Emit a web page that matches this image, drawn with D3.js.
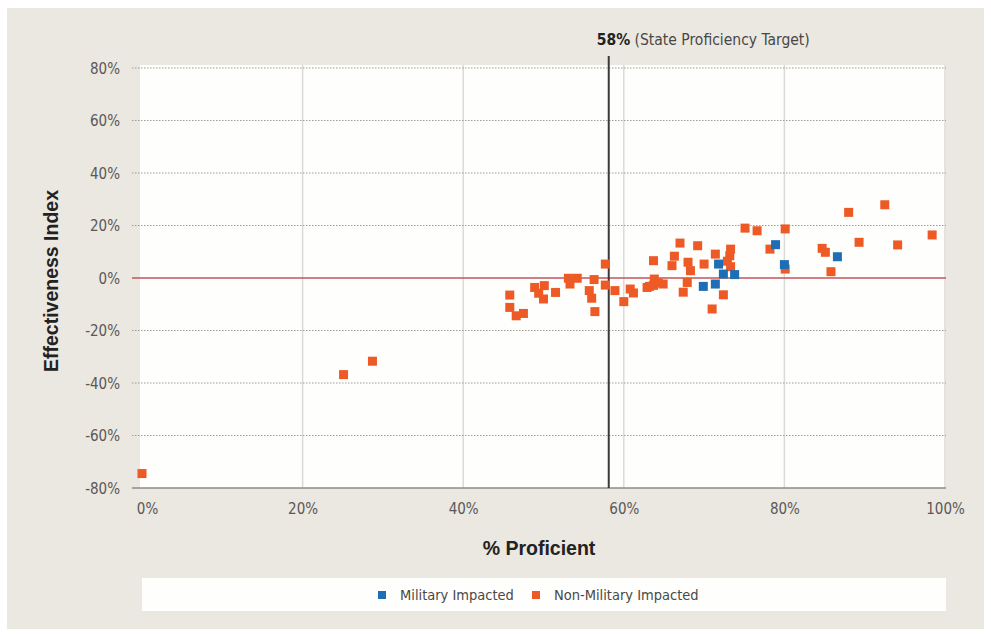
<!DOCTYPE html>
<html><head><meta charset="utf-8">
<script src="https://cdn.jsdelivr.net/npm/d3@7"></script>
<style>
body{margin:0;background:#fff;}
text{font-family:"Liberation Sans Narrow","DejaVu Sans Condensed","Roboto Condensed",sans-serif;}
</style></head>
<body><svg id="c" width="991" height="636"></svg>
<script>
const xTicks = [0,20,40,60,80,100];
const yTicks = [-80,-60,-40,-20,0,20,40,60,80];
const targetValue = 58;
const seriesNames = ["Military Impacted","Non-Military Impacted"];
const seriesColors = ["#1f6db5","#ee5a25"];
const militaryX = [69.9,71.4,71.8,72.4,73.8,78.9,80.0,86.6];
const militaryY = [-3.2,-2.3,5.3,1.5,1.3,12.7,5.1,8.1];
const nonMilX = [0,25.1,28.7,45.8,45.8,46.6,47.5,48.9,50.1,49.4,50.0,51.5,53.1,54.2,53.3,56.3,55.7,56.0,56.4,57.7,57.7,58.9,60.0,60.8,61.2,63.7,62.9,63.2,63.8,64.3,64.9,63.7,66.0,66.3,67.0,68.0,68.3,67.9,67.4,69.2,70.0,71.4,71.0,72.4,73.3,73.2,72.9,73.3,75.1,76.6,80.1,78.2,80.1,88.0,92.5,84.7,85.1,85.8,89.3,94.1,98.4];
const nonMilY = [-74.5,-36.8,-31.7,-6.5,-11.2,-14.4,-13.5,-3.6,-2.9,-5.8,-8.0,-5.5,-0.1,-0.1,-2.3,-0.6,-4.8,-7.7,-12.8,5.3,-2.7,-4.8,-9.0,-4.2,-5.7,6.6,-3.6,-3.2,-0.4,-1.9,-2.3,-2.8,4.7,8.3,13.3,6.0,2.8,-1.7,-5.4,12.3,5.3,9.1,-11.8,-6.4,11.0,8.5,6.4,4.3,19.0,18.0,18.7,11.0,3.4,25.0,27.9,11.3,9.8,2.4,13.6,12.6,16.4];

const svg = d3.select("#c");
const W=991,H=636;
svg.append("rect").attr("width",W).attr("height",H).attr("fill","#fff");
svg.append("rect").attr("x",7).attr("y",8).attr("width",977).attr("height",621).attr("fill","#ebe7e1");

const x = d3.scaleLinear().domain([0,100]).range([142,945]);
const y = d3.scaleLinear().domain([-80,80]).range([488,68]);

svg.append("rect").attr("x",140).attr("y",65).attr("width",946-140).attr("height",488-65).attr("fill","#fefefc");

svg.append("g").selectAll("line").data(xTicks.slice(1)).join("line")
  .attr("x1",d=>x(d)).attr("x2",d=>x(d)).attr("y1",65).attr("y2",488)
  .attr("stroke","#dcdad6").attr("stroke-width",1.5);

svg.append("g").selectAll("line").data(yTicks.filter(d=>d!==0 && d!==-80)).join("line")
  .attr("x1",132).attr("x2",946).attr("y1",d=>y(d)).attr("y2",d=>y(d))
  .attr("stroke","#9e9c98").attr("stroke-width",1).attr("stroke-dasharray","1.5,1.5");

svg.append("line").attr("x1",132).attr("x2",946).attr("y1",y(0)).attr("y2",y(0))
  .attr("stroke","#c2535d").attr("stroke-width",1.3);
svg.append("line").attr("x1",132).attr("x2",946).attr("y1",y(-80)).attr("y2",y(-80))
  .attr("stroke","#8f8d89").attr("stroke-width",1.5);

const tickFont = '"Liberation Sans Narrow","DejaVu Sans Condensed",sans-serif';
const yAxis = d3.axisLeft(y).tickValues(yTicks).tickSize(0).tickPadding(0).tickFormat(d=>d+"%");
const gy = svg.append("g").attr("transform","translate(120,0)").call(yAxis);
gy.select(".domain").remove();
gy.selectAll("text").attr("font-size",15).attr("fill","#5a5856").attr("dy","0.35em").style("font-family",tickFont);

const xAxis = d3.axisBottom(x).tickValues(xTicks).tickSize(0).tickPadding(0).tickFormat(d=>d+"%");
const gx = svg.append("g").attr("transform","translate(0,503)").call(xAxis);
gx.select(".domain").remove();
gx.selectAll("text").attr("font-size",15).attr("fill","#5a5856").attr("dy","0.71em").style("font-family",tickFont)
  .attr("dx",d=>d===0?5:0);

svg.append("line").attr("x1",x(targetValue)+1).attr("x2",x(targetValue)+1).attr("y1",56).attr("y2",488)
  .attr("stroke","#3a3a3a").attr("stroke-width",2);
const tt = svg.append("text").attr("x",x(targetValue)-11).attr("y",45).attr("font-size",15.5).attr("fill","#4a4846");
tt.append("tspan").attr("font-weight","bold").attr("fill","#222").text(targetValue+"%");
tt.append("tspan").text(" (State Proficiency Target)");

svg.append("text").attr("x",539).attr("y",555).attr("text-anchor","middle").attr("font-size",19.5)
  .attr("font-weight","bold").attr("fill","#222").style("font-family","'Liberation Sans','Arial',sans-serif").text("% Proficient");
svg.append("text").attr("transform","translate(58,281) rotate(-90)").attr("text-anchor","middle").attr("font-size",19.5)
  .attr("font-weight","bold").attr("fill","#222").style("font-family","'Liberation Sans','Arial',sans-serif").text("Effectiveness Index");

const s = 9;
const nonMil = nonMilX.map((v,i)=>({x:v,y:nonMilY[i]}));
const mil = militaryX.map((v,i)=>({x:v,y:militaryY[i]}));
svg.append("g").selectAll("rect").data(nonMil).join("rect")
  .attr("x",d=>x(d.x)-s/2).attr("y",d=>y(d.y)-s/2).attr("width",s).attr("height",s)
  .attr("fill",seriesColors[1]);
svg.append("g").selectAll("rect").data(mil).join("rect")
  .attr("x",d=>x(d.x)-s/2).attr("y",d=>y(d.y)-s/2).attr("width",s).attr("height",s)
  .attr("fill",seriesColors[0]);

svg.append("rect").attr("x",142).attr("y",578).attr("width",804).attr("height",33).attr("fill","#fefefc");
const legX = [378,532];
const lg = svg.append("g").selectAll("g").data(seriesNames).join("g")
  .attr("transform",(d,i)=>`translate(${legX[i]},595)`);
lg.append("rect").attr("x",0).attr("y",-4).attr("width",8).attr("height",8).attr("fill",(d,i)=>seriesColors[i]);
lg.append("text").attr("x",22).attr("y",0).attr("dy","0.35em").attr("font-size",14.5).attr("fill","#4a4846").text(d=>d);
</script></body></html>
